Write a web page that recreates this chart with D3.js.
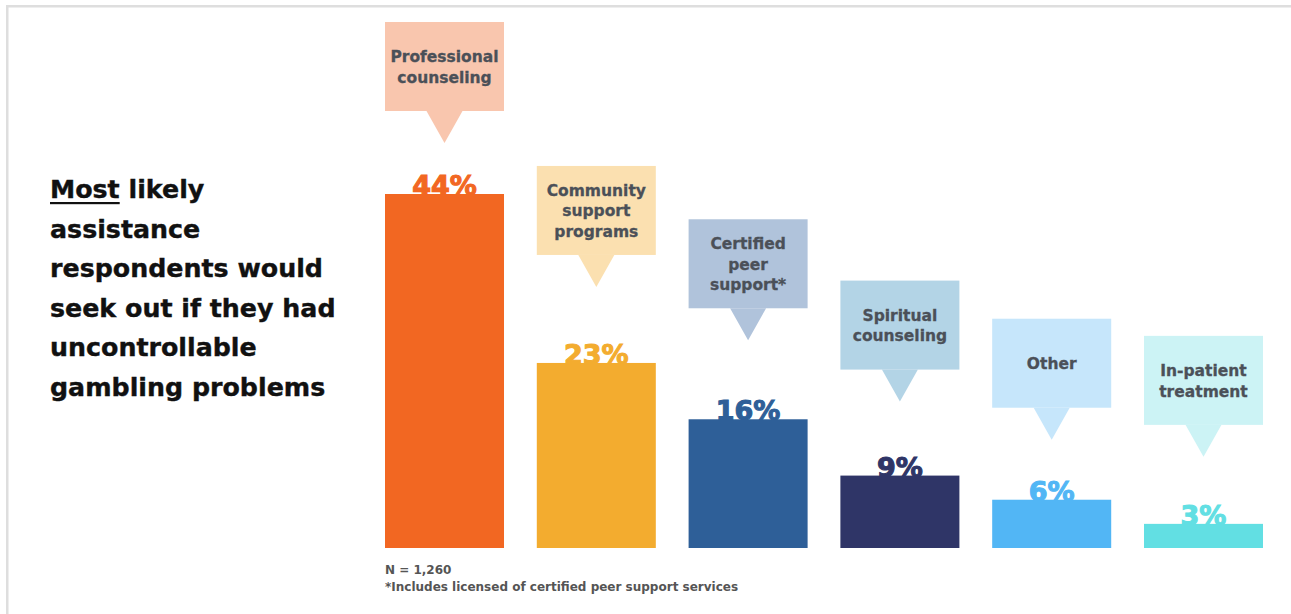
<!DOCTYPE html>
<html>
<head>
<meta charset="utf-8">
<script src="https://cdn.jsdelivr.net/npm/d3@7"></script>
<style>
  html, body { margin: 0; padding: 0; background: #fff; }
  svg { display: block; }
  text { font-family: "DejaVu Sans", "Open Sans", sans-serif; }
</style>
</head>
<body>
<svg id="chart" width="1291" height="614"></svg>
<script>
// Survey answers: most likely assistance sought for uncontrollable gambling problems
const categories = [
  "Professional counseling",
  "Community support programs",
  "Certified peer support*",
  "Spiritual counseling",
  "Other",
  "In-patient treatment"
];
const calloutLines = [
  ["Professional", "counseling"],
  ["Community", "support", "programs"],
  ["Certified", "peer", "support*"],
  ["Spiritual", "counseling"],
  ["Other"],
  ["In-patient", "treatment"]
];
const shares = [44, 23, 16, 9, 6, 3];
const barColors = ["#f26722", "#f3ac2f", "#2e5f98", "#2f3567", "#52b6f5", "#62dfe3"];
const calloutColors = ["#f9c6ae", "#fbe0b0", "#b0c3db", "#b3d4e6", "#c6e6fb", "#ccf3f5"];
// vertical space between each callout's box and its bar top (px)
const calloutGap = [83, 108, 111, 106, 92, 99];

const titleLines = ["likely", "assistance", "respondents would", "seek out if they had", "uncontrollable", "gambling problems"];
const notes = ["N = 1,260", "*Includes licensed of certified peer support services"];

const svg = d3.select("#chart");

// frame lines along the top and left edges
svg.append("rect").attr("x", 6).attr("y", 5).attr("width", 1291).attr("height", 2.5).attr("fill", "#dedede");
svg.append("rect").attr("x", 6).attr("y", 5).attr("width", 2.5).attr("height", 614).attr("fill", "#dedede");

const x = d3.scaleBand().domain(categories).range([385, 1263]).paddingInner(0.216);
const y = d3.scaleLinear().domain([0, 44]).range([548, 194]);

const g = svg.append("g");

// bars
g.selectAll("rect.bar")
  .data(categories)
  .join("rect")
  .attr("class", "bar")
  .attr("x", d => x(d))
  .attr("y", (d, i) => y(shares[i]))
  .attr("width", x.bandwidth())
  .attr("height", (d, i) => y(0) - y(shares[i]))
  .attr("fill", (d, i) => barColors[i]);

// value labels sitting on the bar tops
g.selectAll("text.value")
  .data(categories)
  .join("text")
  .attr("class", "value")
  .attr("x", d => x(d) + x.bandwidth() / 2)
  .attr("y", (d, i) => y(shares[i]) + 1)
  .attr("text-anchor", "middle")
  .attr("font-size", 27)
  .attr("font-weight", 700)
  .attr("fill", (d, i) => barColors[i])
  .attr("stroke", (d, i) => barColors[i])
  .attr("stroke-width", 1.1)
  .text((d, i) => shares[i] + "%");

// callout boxes with downward pointers
const boxH = 89, triW = 36, triH = 32;
const callouts = g.selectAll("g.callout")
  .data(categories)
  .join("g")
  .attr("class", "callout")
  .attr("transform", (d, i) => `translate(${x(d)},${y(shares[i]) - calloutGap[i] - boxH})`);

callouts.append("rect")
  .attr("width", x.bandwidth())
  .attr("height", boxH)
  .attr("fill", (d, i) => calloutColors[i]);

callouts.append("path")
  .attr("d", () => {
    const cx = x.bandwidth() / 2;
    return `M${cx - triW / 2},${boxH} L${cx + triW / 2},${boxH} L${cx},${boxH + triH} Z`;
  })
  .attr("fill", (d, i) => calloutColors[i]);

callouts.each(function (d, i) {
  const lines = calloutLines[i];
  const lh = 20.5;
  const t = d3.select(this).append("text")
    .attr("text-anchor", "middle")
    .attr("font-size", 15.5)
    .attr("font-weight", 700)
    .attr("fill", "#4b5058")
    .attr("stroke", "#4b5058")
    .attr("stroke-width", 0.3);
  lines.forEach((ln, k) => {
    t.append("tspan")
      .attr("x", x.bandwidth() / 2)
      .attr("y", boxH / 2 + (k - (lines.length - 1) / 2) * lh + 6)
      .text(ln);
  });
});

// heading on the left, first word underlined
const title = svg.append("text")
  .attr("font-size", 25.3)
  .attr("font-weight", 700)
  .attr("fill", "#111")
  .attr("stroke", "#111")
  .attr("stroke-width", 0.4);
const lineStep = 39.6;
const t0 = title.append("tspan").attr("x", 50).attr("y", 198);
const most = t0.append("tspan").text("Most");
t0.append("tspan").text(" " + titleLines[0]);
titleLines.slice(1).forEach((ln, k) => {
  title.append("tspan").attr("x", 50).attr("y", 198 + (k + 1) * lineStep).text(ln);
});
const mostW = most.node().getComputedTextLength();
svg.append("rect").attr("x", 50).attr("y", 202).attr("width", mostW).attr("height", 2.2).attr("fill", "#111");

// footnotes
svg.selectAll("text.note")
  .data(notes)
  .join("text")
  .attr("class", "note")
  .attr("x", 385)
  .attr("y", (d, i) => 574 + i * 17)
  .attr("font-size", 12)
  .attr("font-weight", 700)
  .attr("fill", "#555")
  .text(d => d);
</script>
</body>
</html>
